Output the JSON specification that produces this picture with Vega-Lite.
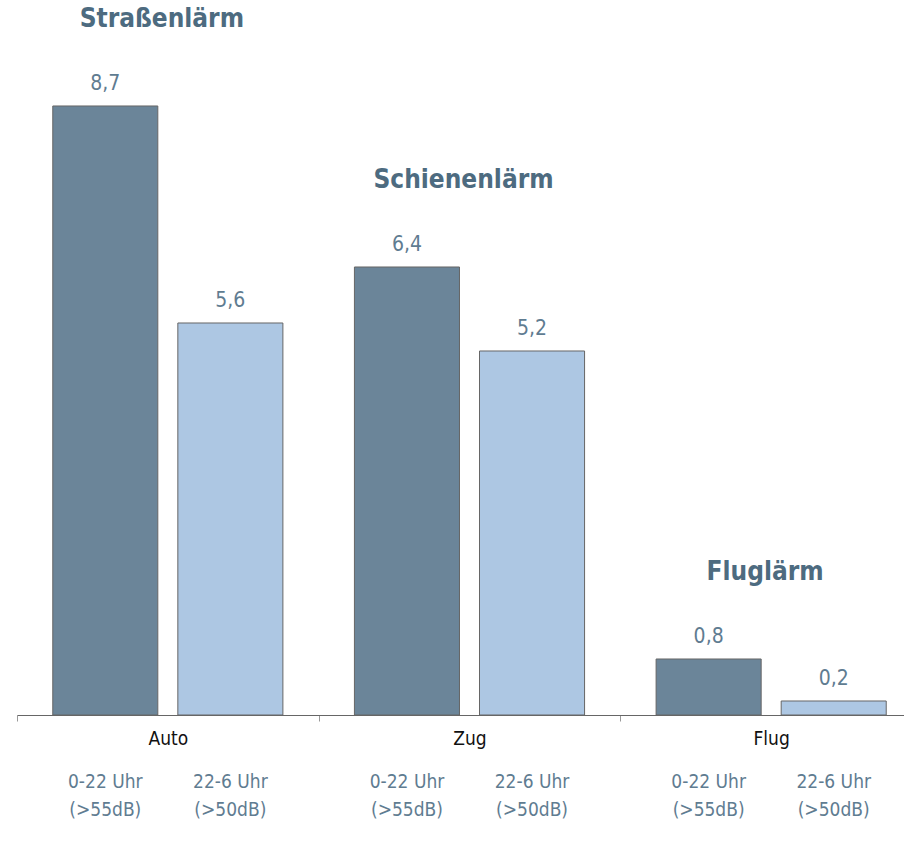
{
  "$schema": "https://vega.github.io/schema/vega-lite/v6.json",
  "autosize": "none",
  "padding": {"left": 17, "top": 0, "right": 0, "bottom": 139},
  "width": 887,
  "height": 715,
  "data": {
    "values": [
      {"kat": "Auto", "gruppe": "Straßenlärm", "zeit": "0-22 Uhr", "sub": "0-22 Uhr\n(>55dB)", "wert": 8.7},
      {"kat": "Auto", "gruppe": "Straßenlärm", "zeit": "22-6 Uhr", "sub": "22-6 Uhr\n(>50dB)", "wert": 5.6},
      {"kat": "Zug", "gruppe": "Schienenlärm", "zeit": "0-22 Uhr", "sub": "0-22 Uhr\n(>55dB)", "wert": 6.4},
      {"kat": "Zug", "gruppe": "Schienenlärm", "zeit": "22-6 Uhr", "sub": "22-6 Uhr\n(>50dB)", "wert": 5.2},
      {"kat": "Flug", "gruppe": "Fluglärm", "zeit": "0-22 Uhr", "sub": "0-22 Uhr\n(>55dB)", "wert": 0.8},
      {"kat": "Flug", "gruppe": "Fluglärm", "zeit": "22-6 Uhr", "sub": "22-6 Uhr\n(>50dB)", "wert": 0.2}
    ]
  },
  "encoding": {
    "x": {
      "field": "kat",
      "type": "nominal",
      "sort": ["Auto", "Zug", "Flug"],
      "scale": {"range": [0, 905], "paddingInner": 0, "paddingOuter": 0},
      "axis": {
        "title": null,
        "labelAngle": 0,
        "labelFontSize": 19,
        "labelColor": "#111111",
        "labelPadding": 8,
        "domainColor": "#666666",
        "tickColor": "#999999",
        "tickSize": 6,
        "tickBand": "extent"
      }
    }
  },
  "layer": [
    {
      "mark": {"type": "bar", "stroke": "#666666", "strokeWidth": 1},
      "encoding": {
        "xOffset": {"field": "zeit", "type": "nominal", "scale": {"paddingInner": 0.16, "paddingOuter": 0.286}},
        "y": {"field": "wert", "type": "quantitative", "scale": {"domain": [0, 10.214], "nice": false, "zero": true}, "axis": null},
        "color": {
          "field": "zeit",
          "type": "nominal",
          "scale": {"domain": ["0-22 Uhr", "22-6 Uhr"], "range": ["#6b8599", "#adc7e3"]},
          "legend": null
        }
      }
    },
    {
      "mark": {"type": "text", "baseline": "alphabetic", "dy": -16, "fontSize": 21, "color": "#5f7c91"},
      "encoding": {
        "xOffset": {"field": "zeit", "type": "nominal", "scale": {"paddingInner": 0.16, "paddingOuter": 0.286}},
        "y": {"field": "wert", "type": "quantitative"},
        "text": {"field": "wert", "type": "quantitative", "format": ".1f"}
      }
    },
    {
      "mark": {"type": "text", "baseline": "top", "fontSize": 19, "lineHeight": 28, "lineBreak": "\n", "color": "#5f7c91"},
      "encoding": {
        "xOffset": {"field": "zeit", "type": "nominal", "scale": {"paddingInner": 0.16, "paddingOuter": 0.286}},
        "y": {"datum": -0.83, "type": "quantitative"},
        "text": {"field": "sub"}
      }
    },
    {
      "transform": [{"aggregate": [{"op": "max", "field": "wert", "as": "maxwert"}], "groupby": ["kat", "gruppe"]}],
      "mark": {"type": "text", "baseline": "middle", "dy": -87, "dx": -6, "fontSize": 26, "fontWeight": "bold", "color": "#4d6b80"},
      "encoding": {
        "y": {"field": "maxwert", "type": "quantitative"},
        "text": {"field": "gruppe"}
      }
    }
  ],
  "config": {
    "font": "Liberation Sans Narrow, DejaVu Sans Condensed, Roboto",
    "view": {"stroke": null},
    "locale": {"number": {"decimal": ",", "thousands": ".", "grouping": [3], "currency": ["", " €"]}}
  }
}
